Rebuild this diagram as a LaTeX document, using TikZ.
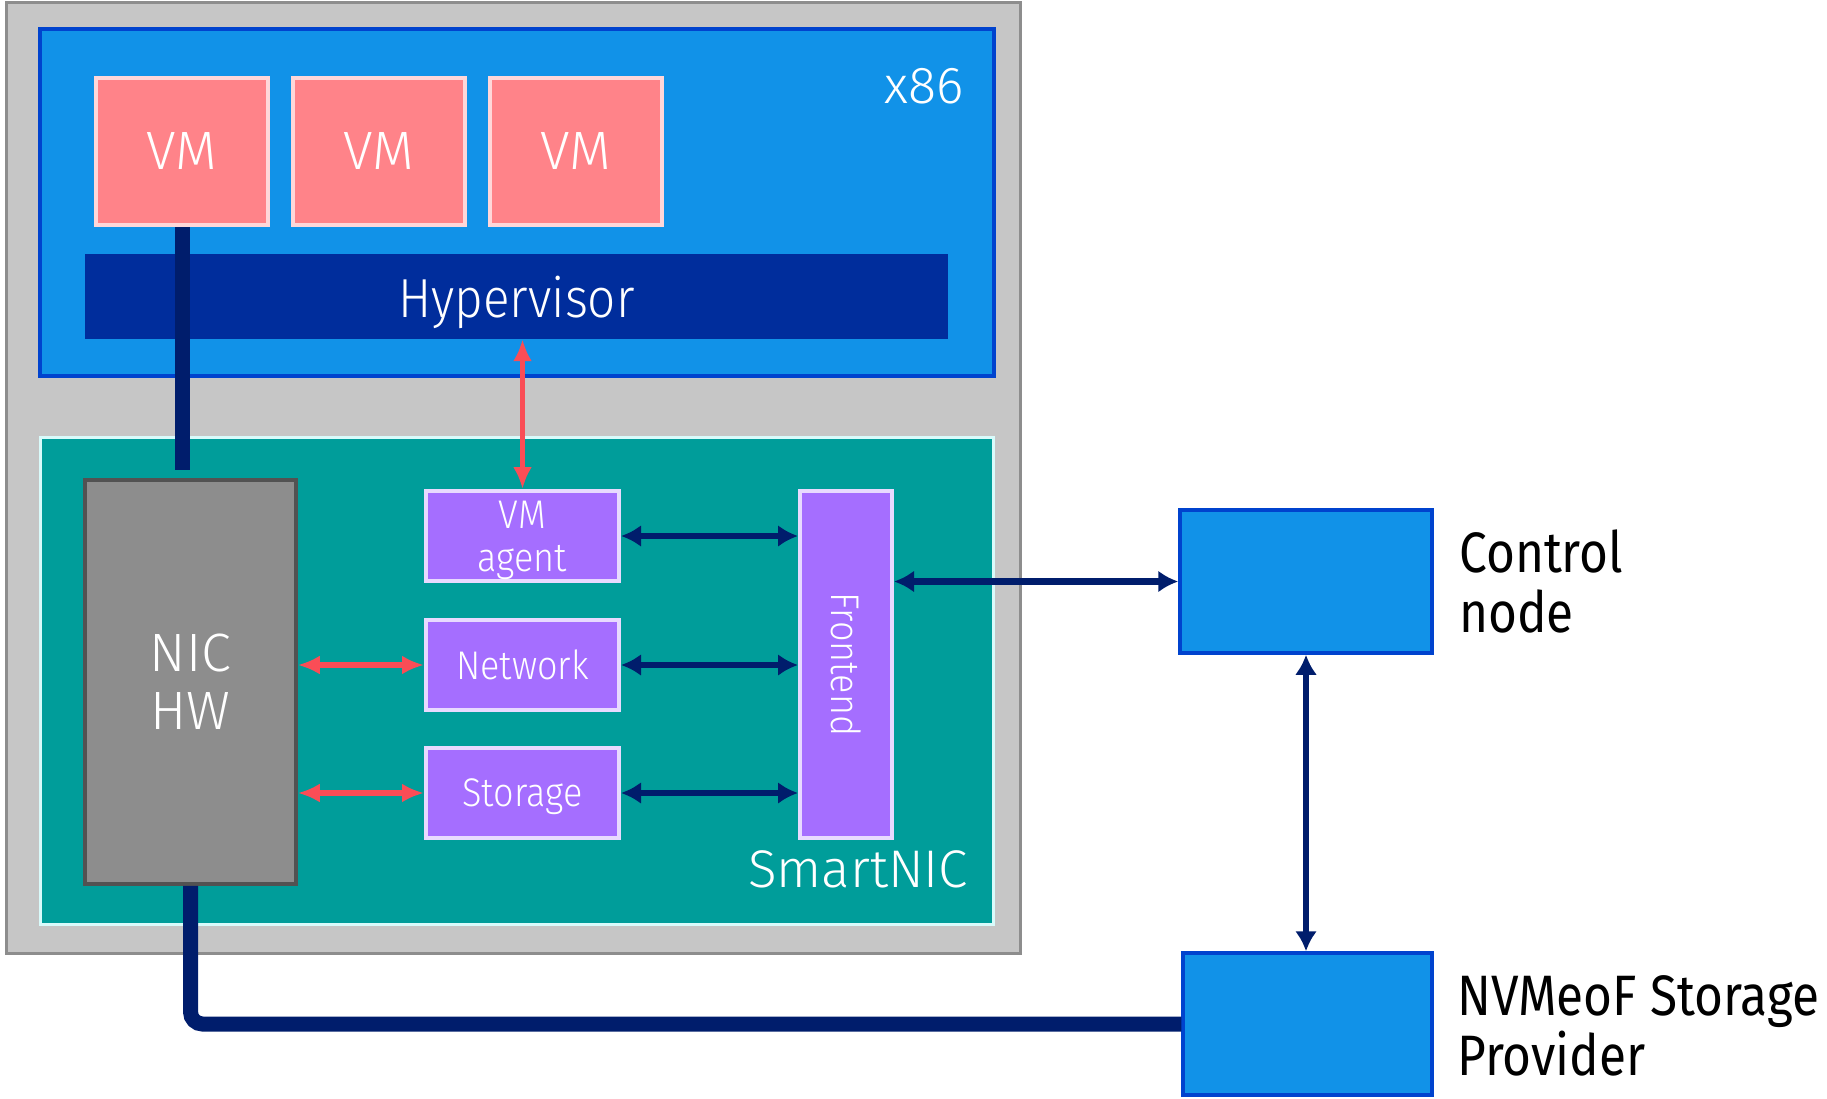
\documentclass[tikz,border=0pt]{standalone}
\usepackage{fontspec}
\setmainfont{Fira Sans}
\newfontfamily\lightfont{Fira Sans Light}
\newfontfamily\lightnarrow{Fira Sans Light}[FakeStretch=0.9]
\newfontfamily\plainnarrow{Fira Sans}[FakeStretch=0.87]
\usetikzlibrary{arrows.meta}
\definecolor{hostgray}{HTML}{C6C6C6}
\definecolor{hostedge}{HTML}{8D8D8D}
\definecolor{cpublue}{HTML}{1192E8}
\definecolor{cpuedge}{HTML}{0043CE}
\definecolor{vmpink}{HTML}{FF8389}
\definecolor{vmedge}{HTML}{FFD7D9}
\definecolor{hypblue}{HTML}{002D9C}
\definecolor{navy}{HTML}{001D6C}
\definecolor{redline}{HTML}{FA4D56}
\definecolor{nicteal}{HTML}{009D9A}
\definecolor{nicedge}{HTML}{D9FBFB}
\definecolor{hwgray}{HTML}{8D8D8D}
\definecolor{hwedge}{HTML}{525252}
\definecolor{svcpurple}{HTML}{A56EFF}
\definecolor{svcedge}{HTML}{E8DAFF}
\newcommand{\setfs}[2]{\fontsize{#1}{#2}\selectfont}
\begin{document}
\begin{tikzpicture}[x=1pt,y=-1pt,
  block/.style={rectangle, inner sep=0pt, align=center},
  vmbox/.style={block, fill=vmpink, draw=vmedge, line width=4pt,
    minimum width=172pt, minimum height=147pt, text=white,
    font=\lightfont\setfs{54}{60}},
  svcbox/.style={block, fill=svcpurple, draw=svcedge, line width=4pt,
    text=white, text depth=0pt, font=\lightnarrow\setfs{40}{43}},
  farbox/.style={block, fill=cpublue, draw=cpuedge, line width=3.5pt},
  farlabel/.style={anchor=west, align=left, inner sep=0pt,
    font=\plainnarrow\setfs{57}{60}},
  navyarrow/.style={draw=navy, line width=6.5pt,
    {Latex[length=20pt,width=22pt]}-{Latex[length=20pt,width=22pt]}},
  redarrow/.style={draw=redline, line width=5.5pt,
    {Latex[length=22pt,width=19pt]}-{Latex[length=22pt,width=19pt]}},
  trunk/.style={draw=navy, line width=15pt}
]
\useasboundingbox (0,0) rectangle (1827,1098);

% host enclosure
\node[block, fill=hostgray, draw=hostedge, line width=3pt,
  minimum width=1014pt, minimum height=951pt] (host) at (513,477.5) {};

% x86 side
\node[block, fill=cpublue, draw=cpuedge, line width=4pt,
  minimum width=954pt, minimum height=347pt] (x86) at (517,202.5) {};
\node[inner sep=0pt, text=white, font=\lightfont\setfs{52}{60}] (x86label) at (924,86) {x86};
\node[vmbox] (vm1) at (182,151.5) {VM};
\node[vmbox] (vm2) at (378.5,151.5) {VM};
\node[vmbox] (vm3) at (575.5,151.5) {VM};
\node[block, fill=hypblue, minimum width=863pt, minimum height=85pt,
  text=white, text depth=0pt, font=\lightnarrow\setfs{55}{60}] (hyp) at (516.5,296.5) {Hypervisor};

% SmartNIC side
\node[block, fill=nicteal, draw=nicedge, line width=3pt,
  minimum width=953pt, minimum height=487pt] (snic) at (516.5,680.5) {};
\node[inner sep=0pt, text=white, font=\lightfont\setfs{53}{60}] (snlabel) at (858,869) {SmartNIC};
\node[block, fill=hwgray, draw=hwedge, line width=3.5pt,
  minimum width=211pt, minimum height=404pt, text=white,
  font=\lightfont\setfs{54}{58}] (nic) at (190.5,682) {NIC\\HW};
\node[svcbox, minimum width=193pt, minimum height=90pt] (agent) at (522.5,536) {VM\\agent};
\node[svcbox, minimum width=193pt, minimum height=90pt] (net) at (522.5,665) {Network};
\node[svcbox, minimum width=193pt, minimum height=90pt] (stor) at (522.5,793) {Storage};
\node[svcbox, minimum width=92pt, minimum height=347pt] (front) at (846,664.5) {};
\node[inner sep=0pt, text=white, font=\lightnarrow\setfs{40}{43}, rotate=-90] (frontlabel) at (front.center) {Frontend};

% remote nodes
\node[farbox, minimum width=252pt, minimum height=143pt] (ctrl) at (1306,581.5) {};
\node[farlabel] (ctrllabel) at (1459,581) {Control\\node};
\node[farbox, minimum width=249pt, minimum height=142pt] (nvme) at (1307.5,1024) {};
\node[farlabel] (nvmelabel) at (1457,1026) {NVMeoF Storage\\Provider};

% data path from the VM down to the NIC and out to storage
\draw[trunk] (vm1.south) -- ([yshift=8pt]nic.north -| vm1.south);
\draw[trunk, rounded corners=12pt] (nic.south) -- (nic.south |- nvme.west) -- (nvme.west);

% control and service links
\draw[redarrow] (agent.north |- hyp.south) -- (agent.north);
\draw[redarrow] (nic.east |- net.west) -- (net.west);
\draw[redarrow] (nic.east |- stor.west) -- (stor.west);
\draw[navyarrow] (agent.east) -- (front.west |- agent.east);
\draw[navyarrow] (net.east) -- (front.west |- net.east);
\draw[navyarrow] (stor.east) -- (front.west |- stor.east);
\draw[navyarrow] (front.east |- ctrl.west) -- (ctrl.west);
\draw[navyarrow] (ctrl.south) -- (ctrl.south |- nvme.north);
\end{tikzpicture}
\end{document}
